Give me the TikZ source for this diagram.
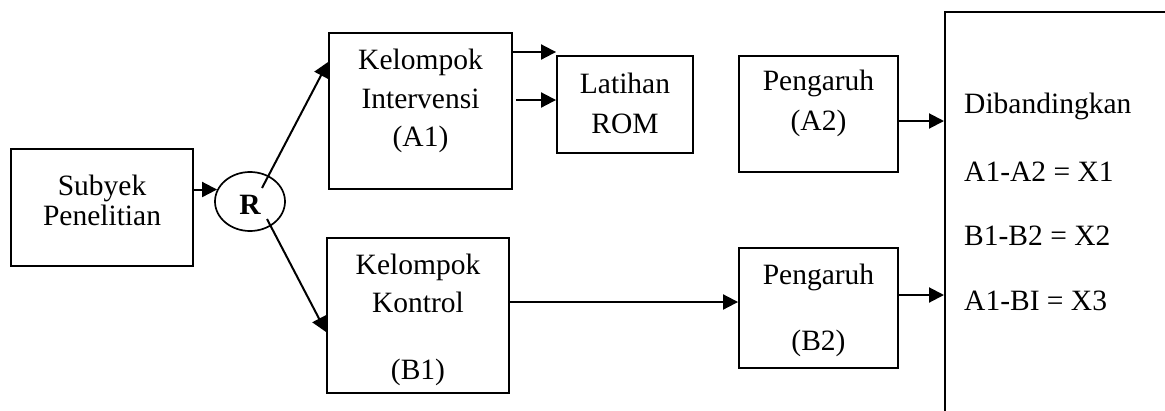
\documentclass[tikz,border=0pt]{standalone}
\usepackage{fontspec}
\setmainfont{Liberation Serif}
\usetikzlibrary{arrows.meta,shapes.geometric}
\begin{document}
\begin{tikzpicture}[x=1pt,y=-1pt,
  box/.style={draw,line width=1.9pt,rectangle,inner sep=0pt},
  txt/.style={align=center,inner sep=0pt,font=\fontsize{29.5}{#1}\selectfont},
  txt/.default=38,
  lbl/.style={anchor=base west,inner sep=0pt,font=\fontsize{29.5}{34}\selectfont},
  arr/.style={line width=2pt,-{Triangle[length=15pt,width=15pt]}}]
\useasboundingbox (0,0) rectangle (1165,410);
\begin{scope}
\clip (0,0) rectangle (1165,410);
% boxes
\node[box,minimum width=182pt,minimum height=117pt] (sub) at (102,207.5) {};
\node[txt=30] (subt) at (102,200) {Subyek\\Penelitian};
\node[draw,ellipse,line width=1.7pt,minimum width=70pt,minimum height=59pt,inner sep=0pt] (R) at (250,201.5) {};
\node[inner sep=0pt,font=\fontsize{29.5}{34}\selectfont\bfseries] (Rt) at (250,205) {R};
\node[box,minimum width=183pt,minimum height=156pt] (inter) at (420.5,111) {};
\node[txt=38.5] (intert) at (420.5,101) {Kelompok\\Intervensi\\(A1)};
\node[box,minimum width=182pt,minimum height=155pt] (kont) at (418,315.5) {};
\node[txt=38] (kontt) at (418,319.5) {Kelompok\\Kontrol\\[29pt](B1)};
\node[box,minimum width=136pt,minimum height=97pt] (lat) at (625,104.5) {};
\node[txt=40] (latt) at (625,103) {Latihan\\ROM};
\node[box,minimum width=159pt,minimum height=116pt] (pa2) at (818.5,114) {};
\node[txt=40] (pa2t) at (818.5,103) {Pengaruh\\(A2)};
\node[box,minimum width=159pt,minimum height=120pt] (pb2) at (818.5,308) {};
\node[txt=66] (pb2t) at (818.5,310) {Pengaruh\\(B2)};
\node[box,minimum width=300pt,minimum height=480pt,anchor=north west] (big) at (944,11) {};
\node[lbl] (l1) at (964,113) {Dibandingkan};
\node[lbl] (l2) at (964,181) {A1-A2 = X1};
\node[lbl] (l3) at (964,245) {B1-B2 = X2};
\node[lbl] (l4) at (964,310) {A1-BI = X3};
% connector end points
\coordinate (ru) at (262,188);
\coordinate (rd) at (267,219);
\coordinate (i1) at ([yshift=59pt]inter.east);
\coordinate (i2) at ([yshift=11pt]inter.east);
\coordinate (i2s) at ([xshift=3pt,yshift=11pt]inter.east);
\coordinate (a2o) at ([yshift=-7pt]pa2.east);
\coordinate (ko) at ([yshift=13.5pt]kont.east);
\coordinate (b2o) at ([yshift=13pt]pb2.east);
% connectors
\draw[arr] (sub.east |- R.160) -- (R.160);
\draw[arr] (ru) -- ([yshift=49pt]inter.west);
\draw[arr] (rd) -- ([yshift=-16.5pt]kont.west);
\draw[arr] (i1) -- (lat.west |- i1);
\draw[arr] (i2s) -- (lat.west |- i2);
\draw[arr] (a2o) -- (big.west |- a2o);
\draw[arr] (ko) -- (pb2.west |- ko);
\draw[arr] (b2o) -- (big.west |- b2o);
\end{scope}
\end{tikzpicture}
\end{document}
